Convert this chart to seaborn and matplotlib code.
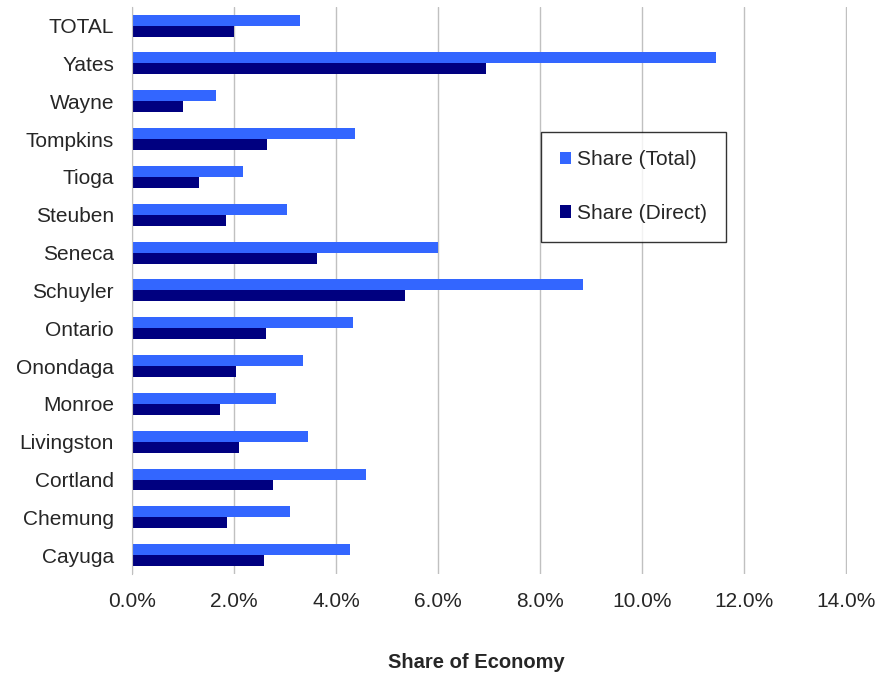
import pandas as pd
import numpy as np
import matplotlib.pyplot as plt
import seaborn as sns
from matplotlib.ticker import PercentFormatter

counties = ["TOTAL", "Yates", "Wayne", "Tompkins", "Tioga", "Steuben", "Seneca",
            "Schuyler", "Ontario", "Onondaga", "Monroe", "Livingston", "Cortland",
            "Chemung", "Cayuga"]
share_total = [3.30, 11.46, 1.64, 4.38, 2.17, 3.04, 6.00, 8.85, 4.33, 3.36, 2.83,
               3.45, 4.58, 3.09, 4.28]
share_direct = [2.00, 6.94, 1.00, 2.65, 1.32, 1.84, 3.63, 5.36, 2.62, 2.03, 1.72,
                2.09, 2.77, 1.87, 2.59]

df = pd.DataFrame({
    "county": counties * 2,
    "share": share_total + share_direct,
    "series": ["Share (Total)"] * len(counties) + ["Share (Direct)"] * len(counties),
})

sns.set_style("white")
plt.rcParams["font.family"] = ["Liberation Sans", "DejaVu Sans"]

fig = plt.figure(figsize=(8.86, 6.73), dpi=100)
ax = fig.add_axes([0.149, 0.147, 0.807, 0.843])
sns.barplot(data=df, y="county", x="share", hue="series", orient="h",
            palette=["#3366FF", "#000080"], saturation=1, width=0.58,
            linewidth=0, edgecolor="none", ax=ax,
            order=counties, hue_order=["Share (Total)", "Share (Direct)"])

ax.set_xlim(0, 14.02)
ax.set_xticks(np.arange(0, 14.1, 2))
ax.xaxis.set_major_formatter(PercentFormatter(decimals=1))
ax.grid(axis="x", color="#c0c0c0", linewidth=1)
ax.set_axisbelow(True)
for s in ["top", "right", "bottom"]:
    ax.spines[s].set_visible(False)
ax.spines["left"].set_color("#c0c0c0")
ax.tick_params(axis="both", length=0, labelsize=15, colors="#262626")
ax.tick_params(axis="x", pad=13)
ax.tick_params(axis="y", pad=13)
ax.set_ylabel("")
ax.set_xlabel("Share of Economy", fontsize=14.5, fontweight="bold",
              color="#262626")
ax.xaxis.set_label_coords(0.481, -0.139)

leg = ax.legend(loc="upper left", bbox_to_anchor=(0.572, 0.78), frameon=True,
                fancybox=False, edgecolor="black", fontsize=15,
                handlelength=0.55, handleheight=0.55, handletextpad=0.3,
                labelspacing=1.67, borderpad=0.9, borderaxespad=0)
leg.get_frame().set_linewidth(1)

fig.savefig("out.png", dpi=100)
